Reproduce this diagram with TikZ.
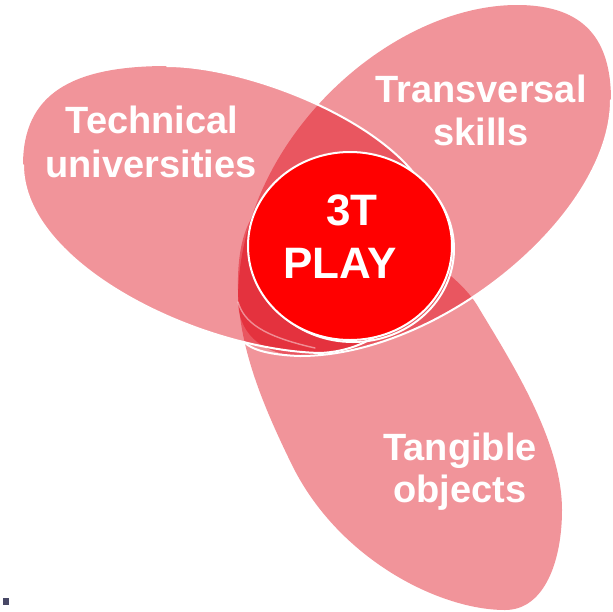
\documentclass[tikz,border=0pt]{standalone}
\usepackage{fontspec}
\setmainfont{Liberation Sans}
\usetikzlibrary{shapes.geometric}
\definecolor{petalred}{RGB}{222,0,15}
\definecolor{corered}{RGB}{255,0,0}
\definecolor{markgray}{RGB}{72,72,102}
\begin{document}
\begin{tikzpicture}[x=1pt,y=-1pt,
  petal/.style={fill=petalred, fill opacity=0.42},
  rim/.style={draw=white, line width=2pt, line cap=round},
  faintrim/.style={draw=white, line width=1.4pt, draw opacity=0.45, line cap=round},
  label/.style={text=white, font=\bfseries\fontsize{38}{44}\selectfont, anchor=base, inner sep=0pt},
  corelabel/.style={text=white, font=\bfseries\fontsize{44}{53}\selectfont, anchor=base, inner sep=0pt},
  core/.style={ellipse, fill=corered, draw=white, line width=2pt, minimum width=204pt, minimum height=188pt, inner sep=0pt}]
\useasboundingbox (0,0) rectangle (613,611);

% petal outlines as Bezier segments
\def\tangpath{(262,205) .. controls (245,220) and (237,250) .. (238,290)
  .. controls (239,350) and (265,410) .. (293,467)
  .. controls (340,560) and (440,610) .. (505,610)
  .. controls (545,610) and (562,560) .. (562,510)
  .. controls (562,440) and (510,360) .. (477,305)
  .. controls (450,260) and (330,190) .. cycle}
\def\techpath{(23,165) .. controls (23,95) and (70,66) .. (167,66)
  .. controls (260,66) and (435,140) .. (435,225)
  .. controls (435,290) and (390,350) .. (320,353)
  .. controls (200,350) and (23,265) .. cycle}
\def\transpath{(238,300) .. controls (238,140) and (390,5) .. (517,5)
  .. controls (585,5) and (611,40) .. (611,100)
  .. controls (611,215) and (440,356) .. (300,356)
  .. controls (258,354) and (238,330) .. cycle}

% three translucent petals
\fill[petal] \tangpath;
\fill[petal] \techpath;
\fill[petal] \transpath;

% white rims where petals cross
\draw[rim] (167,66) .. controls (260,66) and (435,140) .. (435,225);
\draw[rim] (435,225) .. controls (435,290) and (390,350) .. (320,353)
  .. controls (200,350) and (23,265) .. (23,165);
\draw[rim] (611,100) .. controls (611,215) and (440,356) .. (300,356)
  .. controls (270,355) and (252,350) .. (244,342);
\draw[faintrim] (238,302) .. controls (244,322) and (262,336) .. (315,348);

% central disc with its offset outline
\draw[rim] (353,249) ellipse [x radius=101pt, y radius=93pt];
\node[core] (play) at (350,246) {};

% labels
\node[label] (tech1) at (152,133) {Technical};
\node[label] (tech2) at (151,177) {universities};
\node[label] (trans1) at (481,102) {Transversal};
\node[label] (trans2) at (481,145) {skills};
\node[label] (tang1) at (460,460) {Tangible};
\node[label] (tang2) at (460,502) {objects};
\node[corelabel] (core1) at (352,225) {3T};
\node[corelabel] (core2) at (340,278) {PLAY};

% small mark in the corner
\fill[markgray] (3,598) rectangle (9,605);
\end{tikzpicture}
\end{document}
